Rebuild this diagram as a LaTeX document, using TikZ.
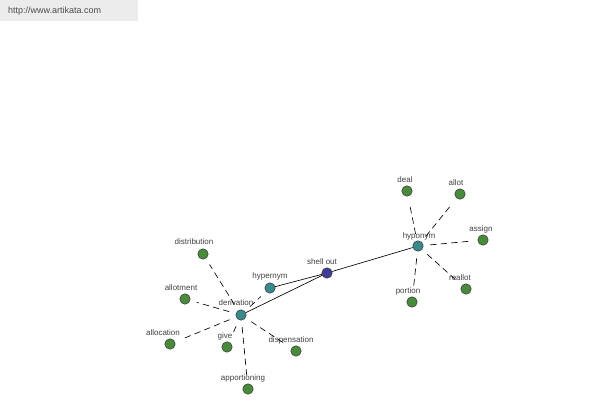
\documentclass[tikz,border=0pt]{standalone}
\usepackage{fontspec}
\setmainfont{Liberation Sans}
\definecolor{wgreen}{RGB}{74,138,60}
\definecolor{wteal}{RGB}{58,138,140}
\definecolor{wblue}{RGB}{62,62,150}
\definecolor{hdrgray}{RGB}{236,236,236}
\begin{document}
\begin{tikzpicture}[x=1pt, y=-1pt, line cap=round, line join=round,
    word/.style={circle, draw=black!80, line width=0.5pt, fill=wgreen, minimum size=10.5pt, inner sep=0pt},
    hub/.style={word, fill=wteal},
    root/.style={word, fill=wblue},
    lbl/.style={inner sep=0pt, font=\fontsize{8}{9}\selectfont, text=black!75},
    rel/.style={line width=0.65pt},
    syn/.style={line width=0.65pt, dash pattern=on 6pt off 4.5pt, shorten <=7pt, shorten >=7pt}]
  \useasboundingbox (0,0) rectangle (600,400);
  \fill[hdrgray] (0,0) rectangle (138,21);
  \node[anchor=west, inner sep=0pt, font=\fontsize{9}{10}\selectfont, text=black!70] (site) at (8,11) {http://www.artikata.com};
  % hubs
  \node[root] (shell) at (327,273) {};
  \node[hub] (hyper) at (270,288) {};
  \node[hub] (deriv) at (241,315) {};
  \node[hub] (hypo) at (418,246) {};
  % derivation words
  \node[word] (distr) at (203,254) {};
  \node[word] (allotm) at (185,299) {};
  \node[word] (alloc) at (170,344) {};
  \node[word] (give) at (227,347) {};
  \node[word] (dispens) at (296,351) {};
  \node[word] (apport) at (248,389) {};
  % hyponym words
  \node[word] (deal) at (407,191) {};
  \node[word] (allot) at (460,194) {};
  \node[word] (assign) at (483,240) {};
  \node[word] (reallot) at (466,289) {};
  \node[word] (portion) at (412,302) {};
  % labels
  \node[lbl] (l-shell) at (322,262) {shell out};
  \node[lbl] (l-hyper) at (270,276) {hypernym};
  \node[lbl] (l-deriv) at (236,303) {derivation};
  \node[lbl] (l-hypo) at (419,236) {hyponym};
  \node[lbl] (l-distr) at (194,242) {distribution};
  \node[lbl] (l-allotm) at (181,288) {allotment};
  \node[lbl] (l-alloc) at (163,333) {allocation};
  \node[lbl] (l-give) at (225,336) {give};
  \node[lbl] (l-dispens) at (291,340) {dispensation};
  \node[lbl] (l-apport) at (243,378) {apportioning};
  \node[lbl] (l-deal) at (405,180) {deal};
  \node[lbl] (l-allot) at (456,183) {allot};
  \node[lbl] (l-assign) at (481,229) {assign};
  \node[lbl] (l-reallot) at (460,278) {reallot};
  \node[lbl] (l-portion) at (408,291) {portion};
  % relations
  \draw[rel] (shell) -- (hypo);
  \draw[rel] (shell) -- (hyper);
  \draw[rel] (shell) -- (deriv);
  \draw[syn] (deriv) -- (hyper);
  \draw[syn] (deriv) -- (distr);
  \draw[syn] (deriv) -- (allotm);
  \draw[syn] (deriv) -- (alloc);
  \draw[syn] (deriv) -- (give);
  \draw[syn] (deriv) -- (dispens);
  \draw[syn] (deriv) -- (apport);
  \draw[syn] (hypo) -- (deal);
  \draw[syn] (hypo) -- (allot);
  \draw[syn] (hypo) -- (assign);
  \draw[syn] (hypo) -- (reallot);
  \draw[syn] (hypo) -- (portion);
\end{tikzpicture}
\end{document}
